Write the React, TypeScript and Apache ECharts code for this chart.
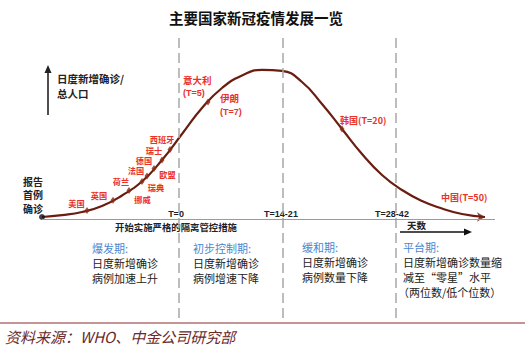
import React, { useEffect, useRef } from "react";
import * as echarts from "echarts";

// Curve (abstract progress units): x = days-progress, y = daily new cases / population
const curveX = [5, 25, 45, 65, 85, 105, 125, 145, 165, 185, 205, 225, 245, 265, 285, 305, 325, 345, 365, 385, 405, 425, 448];
const curveY = [1, 2.9, 6, 12, 22.5, 36.5, 58, 84, 110, 130, 142.5, 148.2, 147.1, 136, 114, 89, 64, 43, 28, 17, 9.5, 4, 1];

// Country markers on the curve
const markerX = [50, 76, 92, 105, 110, 117, 125, 133, 171, 305];
const markerY = [7.5, 17.8, 27.4, 36.5, 41.9, 49.4, 58, 68.4, 116, 89];

// Phase boundaries (T=0, T=14-21, T=28-42)
const phaseX = [142, 246, 359];
const phaseLabels = ["T=0", "T=14-21", "T=28-42"];

const startPoint = [5, 1];
const endPoint = [448, 1];

const countryLabels = ["美国", "英国", "荷兰", "法国", "德国", "瑞士", "西班牙", "欧盟", "瑞典", "挪威"];

const FONT = '"Noto Sans CJK SC", "Noto Sans", sans-serif';
const RED = "#e8322b";
const BLUE = "#4a86cf";
const CURVE = "#6a1d10";

function txt(text: string, x: number, y: number, o: any = {}) {
  return {
    type: "text",
    x,
    y,
    silent: true,
    style: {
      text,
      fill: o.fill || "#222",
      fontSize: o.size || 10,
      fontFamily: o.family || FONT,
      fontWeight: o.weight || "normal",
      fontStyle: o.style || "normal",
      textAlign: o.align || "center",
      textVerticalAlign: "middle",
      lineHeight: o.lh || undefined,
    },
  };
}

export default function App() {
  const ref = useRef<HTMLDivElement>(null);
  useEffect(() => {
    if (!ref.current) return;
    const chart = echarts.init(ref.current, undefined, { renderer: "svg" });

    const countryPos = [
      [76.5, 203], [99, 195], [121, 180.5], [136, 170], [144, 160],
      [154, 150], [162, 139], [167.5, 174], [156, 187], [142.5, 199],
    ];

    const graphic: any[] = [
      txt("主要国家新冠疫情发展一览", 256, 17, { size: 14.5, weight: "bold", fill: "#111" }),
      // y-axis arrow
      { type: "line", silent: true, shape: { x1: 48, y1: 72, x2: 48, y2: 115 }, style: { stroke: "#222", lineWidth: 1.6 } },
      { type: "polygon", silent: true, shape: { points: [[48, 65], [44.5, 73], [51.5, 73]] }, style: { fill: "#222" } },
      txt("日度新增确诊/", 57, 78, { size: 10.5, align: "left", weight: "bold" }),
      txt("总人口", 57, 93, { size: 10.5, align: "left", weight: "bold" }),
      txt("报告", 33, 181, { size: 10, weight: "bold" }),
      txt("首例", 33, 194.5, { size: 10, weight: "bold" }),
      txt("确诊", 33, 208, { size: 10, weight: "bold" }),
      ...countryLabels.map((n, i) => txt(n, countryPos[i][0], countryPos[i][1], { size: 8.2, fill: RED, weight: "bold", lh: 8.5 })),
      txt("意大利", 183, 80, { size: 9.5, fill: RED, align: "left", weight: "bold" }),
      txt("(T=5)", 183, 93, { size: 9, fill: RED, align: "left", weight: "bold", family: "Liberation Sans" }),
      txt("伊朗", 220, 98, { size: 9.5, fill: RED, align: "left", weight: "bold" }),
      txt("(T=7)", 220, 112, { size: 9, fill: RED, align: "left", weight: "bold", family: "Liberation Sans" }),
      txt("韩国(T=20)", 340, 120, { size: 9, fill: RED, align: "left", weight: "bold" }),
      txt("中国(T=50)", 441, 197, { size: 9, fill: RED, align: "left", weight: "bold" }),
      txt(phaseLabels[0], 176, 214, { size: 9, weight: "bold", family: "Liberation Sans" }),
      txt(phaseLabels[1], 281, 214, { size: 9, weight: "bold", family: "Liberation Sans" }),
      txt(phaseLabels[2], 392, 214, { size: 9, weight: "bold", family: "Liberation Sans" }),
      txt("开始实施严格的隔离管控措施", 176, 227, { size: 9.4, weight: "bold" }),
      txt("天数", 407, 225, { size: 9.5, align: "left", weight: "bold" }),
      { type: "line", silent: true, shape: { x1: 400, y1: 232, x2: 465, y2: 232 }, style: { stroke: "#111", lineWidth: 1.6 } },
      { type: "polygon", silent: true, shape: { points: [[472, 232], [464, 228.5], [464, 235.5]] }, style: { fill: "#111" } },
      // phases
      txt("爆发期:", 92, 248, { size: 11, fill: BLUE, align: "left" }),
      txt("日度新增确诊", 92, 263, { size: 11, align: "left" }),
      txt("病例加速上升", 92, 278, { size: 11, align: "left" }),
      txt("初步控制期:", 193, 248, { size: 11, fill: BLUE, align: "left" }),
      txt("日度新增确诊", 193, 263, { size: 11, align: "left" }),
      txt("病例增速下降", 193, 278, { size: 11, align: "left" }),
      txt("缓和期:", 302, 247, { size: 11, fill: BLUE, align: "left" }),
      txt("日度新增确诊", 302, 262, { size: 11, align: "left" }),
      txt("病例数量下降", 302, 277, { size: 11, align: "left" }),
      txt("平台期:", 403, 247, { size: 11, fill: BLUE, align: "left" }),
      txt("日度新增确诊数量缩", 403, 262, { size: 11, align: "left" }),
      txt("减至“零星”水平", 403, 277, { size: 11, align: "left" }),
      txt("（两位数/低个位数）", 398, 292, { size: 11, align: "left" }),
      // footer
      { type: "line", silent: true, shape: { x1: 0, y1: 323, x2: 525, y2: 323 }, style: { stroke: "#8a2a2a", lineWidth: 1 } },
      txt("资料来源：WHO、中金公司研究部", 5, 336, { size: 15, align: "left", style: "italic", fill: "#6a2a2a" }),
    ];

    chart.setOption({
      animation: false,
      backgroundColor: "#ffffff",
      grid: { left: 37, right: 30, top: 38, bottom: 37 },
      xAxis: { type: "value", min: 0, max: 458, show: false },
      yAxis: { type: "value", min: -100, max: 180, show: false },
      graphic,
      series: [
        {
          type: "line",
          data: curveX.map((x, i) => [x, curveY[i]]),
          smooth: 0.5,
          symbol: "none",
          lineStyle: { color: CURVE, width: 2.2 },
          silent: true,
          z: 3,
          markLine: {
            silent: true,
            symbol: "none",
            label: { show: false },
            animation: false,
            data: [
              ...phaseX.map((x) => ({ xAxis: x, lineStyle: { color: "#a8a8a8", type: [10, 5], width: 1.5 } })),
              [
                { coord: [startPoint[0], -1], lineStyle: { color: "#9a9a9a", type: "solid", width: 1 } },
                { coord: [458, -1] },
              ],
            ],
          },
        },
        {
          type: "scatter",
          data: markerX.map((x, i) => [x, markerY[i]]),
          symbol: "diamond",
          symbolSize: [5, 7],
          itemStyle: { color: "#8a2a14" },
          silent: true,
          z: 4,
        },
        {
          type: "scatter",
          data: [startPoint],
          symbol: "circle",
          symbolSize: 6,
          itemStyle: { color: "#111" },
          silent: true,
          z: 4,
        },
        {
          type: "scatter",
          data: [endPoint],
          symbol: "arrow",
          symbolRotate: -90,
          symbolSize: [7, 8],
          itemStyle: { color: CURVE },
          silent: true,
          z: 4,
        },
      ],
    });
    return () => chart.dispose();
  }, []);
  return <div ref={ref} style={{ position: "fixed", left: 0, top: 0, width: 525, height: 355 }} />;
}
